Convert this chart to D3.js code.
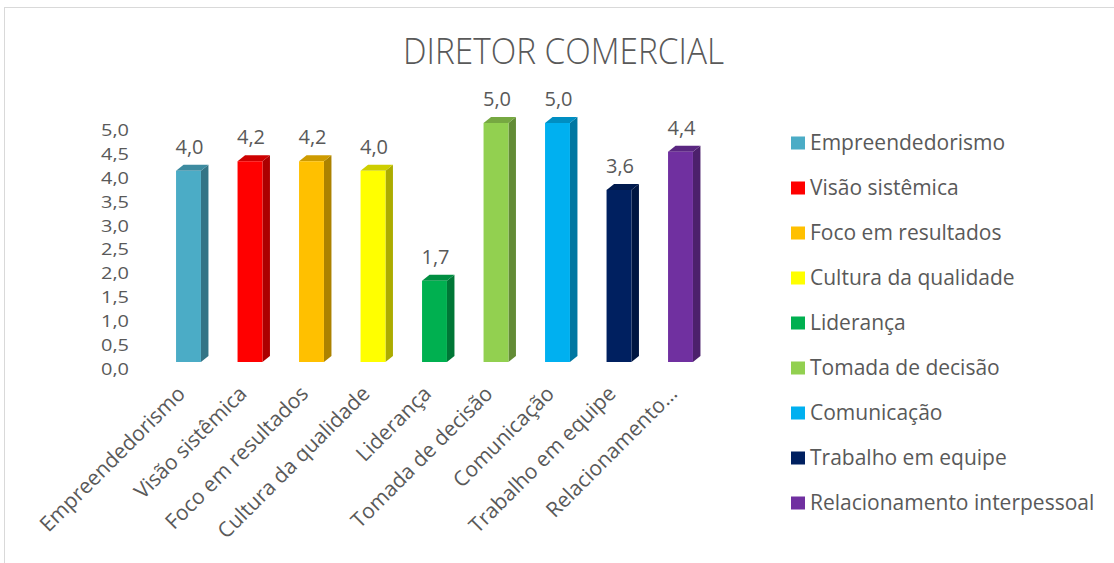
<!DOCTYPE html>
<html><head><meta charset="utf-8">
<script src="https://cdn.jsdelivr.net/npm/d3@7"></script>
<style>body{margin:0;background:#fff}svg{display:block}text{font-family:"Open Sans",sans-serif;fill:#595959}</style>
</head><body><svg id="c" width="1114" height="563"></svg>
<script>
const categories = ["Empreendedorismo","Visão sistêmica","Foco em resultados","Cultura da qualidade","Liderança","Tomada de decisão","Comunicação","Trabalho em equipe","Relacionamento interpessoal"];
const axisLabels = ["Empreendedorismo","Visão sistêmica","Foco em resultados","Cultura da qualidade","Liderança","Tomada de decisão","Comunicação","Trabalho em equipe","Relacionamento…"];
const values = [4.0,4.2,4.2,4.0,1.7,5.0,5.0,3.6,4.4];
const colors = ["#4BACC6","#FF0000","#FFC000","#FFFF00","#00B050","#92D050","#00B0F0","#002060","#7030A0"];
const yTicks = [0,0.5,1,1.5,2,2.5,3,3.5,4,4.5,5];
const title = "DIRETOR COMERCIAL";

const svg = d3.select("#c");
const fmt = v => v.toFixed(1).replace(".", ",");

svg.append("rect").attr("x",4.5).attr("y",7.5).attr("width",1200).attr("height",700)
  .attr("fill","none").attr("stroke","#d9d9d9");

svg.append("text").attr("x",563.5).attr("y",64).attr("text-anchor","middle")
  .attr("font-size",36).attr("font-weight",300).attr("textLength",321).attr("lengthAdjust","spacingAndGlyphs")
  .text(title);

const x = d3.scaleBand().domain(categories).range([157.75,711.25]).paddingInner(0.595).paddingOuter(0.2975);
const y = d3.scaleLinear().domain([0,5]).range([362,123]);
const dx = 7.5, dy = 6;

// y axis (labels only), offset like Excel back wall
const yAxis = d3.axisLeft(y).tickValues(yTicks).tickFormat(fmt).tickSize(0).tickPadding(0);
const ga = svg.append("g").attr("transform","translate(129,7)").call(yAxis);
ga.select(".domain").remove();
ga.selectAll("text").attr("font-size",17).attr("fill","#595959").style("font-family","'Open Sans',sans-serif")
  .attr("textLength",28).attr("lengthAdjust","spacingAndGlyphs");

const bars = svg.append("g").selectAll("g").data(categories).join("g");
bars.each(function(c,i){
  const g = d3.select(this);
  const x0 = x(c), w = x.bandwidth(), yt = y(values[i]), yb = y(0);
  const col = d3.color(colors[i]);
  g.append("path").attr("d",`M${x0+w},${yb} L${x0+w+dx},${yb-dy} L${x0+w+dx},${yt-dy} L${x0+w},${yt} Z`)
    .attr("fill",col.darker(1.1));
  g.append("path").attr("d",`M${x0},${yt} L${x0+dx},${yt-dy} L${x0+w+dx},${yt-dy} L${x0+w},${yt} Z`)
    .attr("fill",col.darker(0.6));
  g.append("rect").attr("x",x0).attr("y",yt).attr("width",w).attr("height",yb-yt).attr("fill",col);
  g.append("text").attr("x",x0+w/2+1).attr("y",yt-17).attr("text-anchor","middle").attr("font-size",20).text(fmt(values[i]));
});

// x labels
svg.append("g").selectAll("text").data(categories).join("text")
  .attr("text-anchor","end").attr("font-size",21)
  .attr("transform",(c)=>`translate(${x(c)+x.bandwidth()/2-2},${395}) rotate(-45)`)
  .text((c,i)=>axisLabels[i]);

// legend
const lg = svg.append("g").selectAll("g").data(categories).join("g")
  .attr("transform",(c,i)=>`translate(791,${143+45*i})`);
lg.append("rect").attr("x",0).attr("y",-6.5).attr("width",14).attr("height",13).attr("fill",(c,i)=>colors[i]);
lg.append("text").attr("x",19).attr("y",7).attr("font-size",21).text(c=>c);
</script></body></html>
